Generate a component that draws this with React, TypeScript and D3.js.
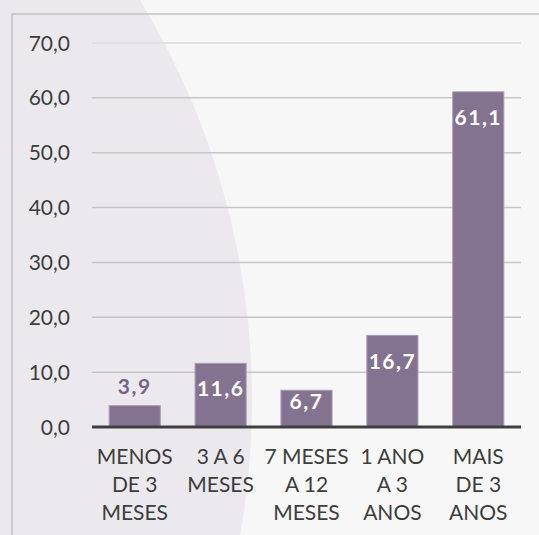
import * as d3 from "d3";

const width = 539;
const height = 535;

// categories (x axis labels, split by line) and values
const categories = ["menos3", "3a6", "7a12", "1a3", "mais3"];
const categoryLines = [
  ["MENOS", "DE 3", "MESES"],
  ["3 A 6", "MESES"],
  ["7 MESES", "A 12", "MESES"],
  ["1 ANO", "A 3", "ANOS"],
  ["MAIS", "DE 3", "ANOS"],
];
const values = [3.9, 11.6, 6.7, 16.7, 61.1];
const yTicks = [0, 10, 20, 30, 40, 50, 60, 70];

const margin = { top: 43, right: 18, bottom: 108, left: 92 };
const font = "Lato, 'Open Sans', sans-serif";
const barColor = "#847390";

const fmt = (v: number) => v.toFixed(1).replace(".", ",");

const App = () => {
  const x = d3
    .scaleBand<string>()
    .domain(categories)
    .range([margin.left, width - margin.right])
    .paddingInner(0.405)
    .paddingOuter(0.2);

  const y = d3
    .scaleLinear()
    .domain([0, 70])
    .range([height - margin.bottom, margin.top]);

  const x0 = margin.left;
  const x1 = width - margin.right;

  return (
    <svg
      width={width}
      height={height}
      style={{ position: "absolute", left: 0, top: 0 }}
      fontFamily={font}
    >
      {/* background */}
      <rect width={width} height={height} fill="#f7f7f7" />
      <circle cx={-518} cy={400} r={770} fill="#ebe9ee" />
      <rect x={12} y={14} width={width} height={height} fill="none" stroke="#c2c2c2" strokeWidth={1.5} />

      {/* grid */}
      {yTicks.map(t =>
        t === 0 ? null : (
          <line
            key={t}
            x1={x0}
            x2={x1}
            y1={y(t)}
            y2={y(t)}
            stroke={t === 70 ? "#dcdcdc" : "#c6c6c6"}
            strokeWidth={1.5}
          />
        )
      )}
      {yTicks.map(t => (
        <text
          key={"l" + t}
          x={70}
          y={y(t)}
          dy="0.36em"
          textAnchor="end"
          fontSize={21}
          fill="#3d3d3d"
        >
          {fmt(t)}
        </text>
      ))}

      {/* bars */}
      {categories.map((c, i) => {
        const v = values[i];
        const top = y(v);
        const h = y(0) - top;
        const bx = x(c) ?? 0;
        const bw = x.bandwidth();
        let cy: number;
        let inside = true;
        if (h < 28) {
          inside = false;
          cy = top - 19;
        } else {
          cy = top + Math.min(26, h / 2 - 7);
        }
        return (
          <g key={c}>
            <rect x={bx} y={top} width={bw} height={h} fill={barColor} stroke="#a99db2" strokeWidth={1} />
            <text
              x={bx + bw / 2}
              y={cy}
              dy="0.36em"
              textAnchor="middle"
              fontSize={21}
              fontWeight="bold"
              letterSpacing={1.5}
              fill={inside ? "#ffffff" : "#766585"}
            >
              {fmt(v)}
            </text>
          </g>
        );
      })}

      {/* baseline */}
      <line x1={x0} x2={x1} y1={y(0)} y2={y(0)} stroke="#3f3f3f" strokeWidth={3} />

      {/* x labels */}
      {categories.map((c, i) => (
        <text
          key={"x" + c}
          x={(x(c) ?? 0) + x.bandwidth() / 2}
          textAnchor="middle"
          fontSize={21}
          fill="#3d3d3d"
        >
          {categoryLines[i].map((ln, j) => (
            <tspan key={j} x={(x(c) ?? 0) + x.bandwidth() / 2} y={464 + j * 28}>
              {ln}
            </tspan>
          ))}
        </text>
      ))}
    </svg>
  );
};

export default App;
